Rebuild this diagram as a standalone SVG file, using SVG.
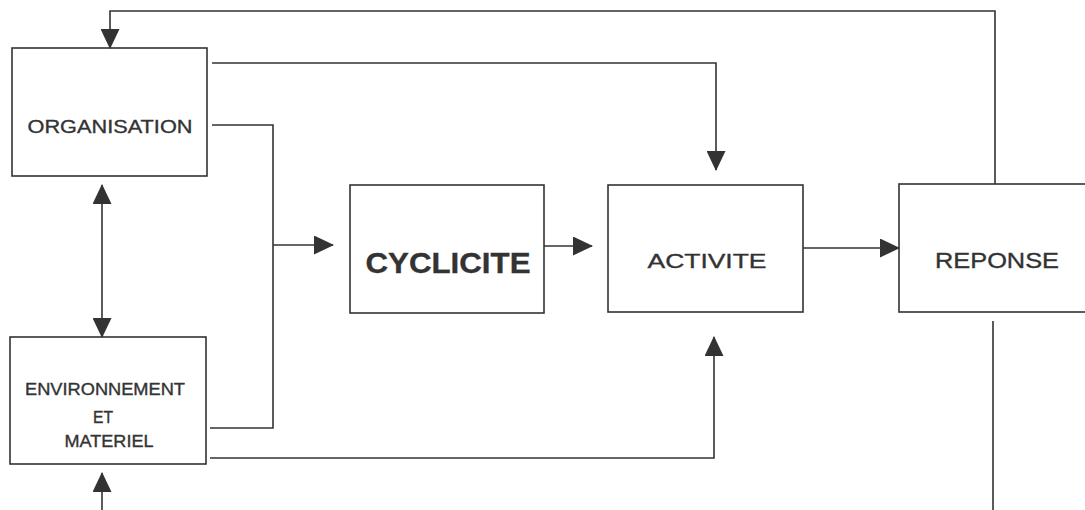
<svg xmlns="http://www.w3.org/2000/svg" width="1085" height="510" viewBox="0 0 1085 510">
<style>
.box{fill:#fff;stroke:#333;stroke-width:1.6}
.lbl{font-family:"Liberation Sans",Arial,sans-serif;fill:#333;stroke:#333;stroke-width:0.35;text-anchor:middle}
.con{fill:none;stroke:#333;stroke-width:1.6}
</style>
<defs>
<marker id="ah" markerUnits="userSpaceOnUse" markerWidth="20" markerHeight="19" refX="19" refY="9.5" orient="auto-start-reverse" viewBox="0 0 20 19">
<path d="M0,0 L20,9.5 L0,19 z" fill="#333"/>
</marker>
</defs>
<rect width="1085" height="510" fill="#fff"/>
<g id="organisation">
<rect class="box" x="12" y="48" width="195" height="128"/>
<text class="lbl" x="110" y="133" font-size="19" textLength="165" lengthAdjust="spacingAndGlyphs">ORGANISATION</text>
</g>
<g id="environnement">
<rect class="box" x="10" y="337" width="196" height="127"/>
<text class="lbl" x="105" y="395" font-size="16.5" textLength="160" lengthAdjust="spacingAndGlyphs">ENVIRONNEMENT</text>
<text class="lbl" x="103" y="423" font-size="16.5" textLength="20" lengthAdjust="spacingAndGlyphs">ET</text>
<text class="lbl" x="109" y="447" font-size="16.5" textLength="89" lengthAdjust="spacingAndGlyphs">MATERIEL</text>
</g>
<g id="cyclicite">
<rect class="box" x="350" y="185" width="194" height="128"/>
<text class="lbl" x="448" y="273" font-size="30" font-weight="bold" textLength="165" lengthAdjust="spacingAndGlyphs">CYCLICITE</text>
</g>
<g id="activite">
<rect class="box" x="608" y="185" width="195" height="127"/>
<text class="lbl" x="707" y="268" font-size="20.5" textLength="119" lengthAdjust="spacingAndGlyphs">ACTIVITE</text>
</g>
<g id="reponse">
<rect class="box" x="899" y="184" width="200" height="128"/>
<text class="lbl" x="997" y="268" font-size="22" textLength="124" lengthAdjust="spacingAndGlyphs">REPONSE</text>
</g>
<g id="connectors">
<path class="con" d="M995,184 V11 H110 V48" marker-end="url(#ah)"/>
<path class="con" d="M212,63 H716 V170" marker-end="url(#ah)"/>
<path class="con" d="M212,125 H273 V428 H210"/>
<path class="con" d="M273,245 H333" marker-end="url(#ah)"/>
<path class="con" d="M102,185 V337" marker-start="url(#ah)" marker-end="url(#ah)"/>
<path class="con" d="M210,458 H714 V337" marker-end="url(#ah)"/>
<path class="con" d="M102,510 V473" marker-end="url(#ah)"/>
<path class="con" d="M544,246 H592" marker-end="url(#ah)"/>
<path class="con" d="M803,248 H899" marker-end="url(#ah)"/>
<path class="con" d="M993,321 V510"/>
</g>
</svg>
